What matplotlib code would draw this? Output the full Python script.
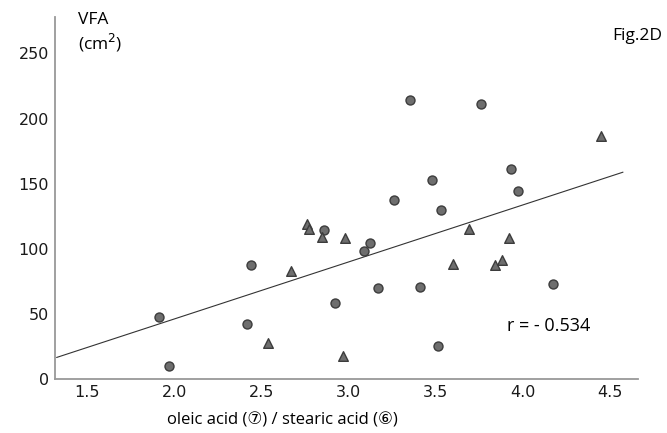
import numpy as np
import matplotlib.pyplot as plt

# circles
circ_x = [1.91, 1.97, 2.44, 2.42, 2.86, 2.92, 3.35, 3.76, 3.93, 3.48, 3.97, 3.26,
          3.53, 3.12, 3.09, 3.17, 3.41, 4.17, 3.51]
circ_y = [47.7, 10, 87.7, 42, 114.6, 58.2, 214.6, 211.5, 161.5, 153, 144.6, 137.7,
          130, 104.8, 98.5, 70, 71, 72.8, 25.6]

# triangles
tri_x = [2.76, 2.77, 2.85, 2.67, 2.54, 2.98, 3.69, 3.92, 3.60, 3.84, 3.88, 2.97, 4.45]
tri_y = [119, 115, 108.7, 83, 27.4, 108.2, 115, 108, 88.2, 87.4, 91.1, 17.9, 187]

# regression line
fit_slope = 43.8
fit_intercept = -41.5
fit_range = [1.326, 4.573]

x_ticks = [1.5, 2.0, 2.5, 3.0, 3.5, 4.0, 4.5]
y_ticks = [0, 50, 100, 150, 200, 250]

fig = plt.figure(figsize=(6.67, 4.33), dpi=100)
ax = fig.add_axes([0.0825, 0.1247, 0.874, 0.836])

fill = '#6e6e6e'
edge = '#3c3c3c'
ax.scatter(circ_x, circ_y, s=42, marker='o', facecolor=fill, edgecolor=edge, linewidth=1, zorder=3)
ax.scatter(tri_x, tri_y, s=48, marker='^', facecolor=fill, edgecolor=edge, linewidth=1, zorder=3)

lx = np.array(fit_range)
ax.plot(lx, fit_slope * lx + fit_intercept, color='#333333', linewidth=0.8, zorder=2)

ax.set_xlim(1.316, 4.66)
ax.set_ylim(0, 278)
ax.set_xticks(x_ticks)
ax.set_xticklabels([f'{v:.1f}' for v in x_ticks])
ax.set_yticks(y_ticks)
ax.tick_params(length=0, labelsize=11.5, colors='#1a1a1a', pad=4.5)
for s in ['top', 'right']:
    ax.spines[s].set_visible(False)
for s in ['left', 'bottom']:
    ax.spines[s].set_color('#999999')
    ax.spines[s].set_linewidth(1.3)

font = ['Open Sans', 'DejaVu Sans']
fig.text(0.117, 0.954, 'VFA', fontsize=12.5, family=font, va='center')
fig.text(0.117, 0.900, '(cm$^2$)', fontsize=12.5, family=font, va='center')
fig.text(0.918, 0.918, 'Fig.2D', fontsize=12.5, family=font, va='center')
ax.text(3.91, 40.8, 'r = - 0.534', fontsize=13, family=font, va='center')
fig.text(0.423, 0.03, 'oleic acid (⑦) / stearic acid (⑥)', fontsize=12,
         family=['Open Sans', 'DejaVu Sans'], ha='center', va='center')

fig.savefig('out.png', dpi=100)
